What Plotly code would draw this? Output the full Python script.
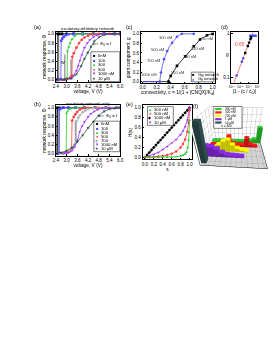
import plotly.graph_objects as go

# ---------------- data ----------------
V_TICKS = [2.4, 3.0, 3.6, 4.2, 4.8, 5.4, 6.0]
UNIT_TICKS = [0.0, 0.2, 0.4, 0.6, 0.8, 1.0]

# (a) excitatory-inhibitory network : voltage (V) vs network response
a_labels = ["0nM", "100", "300", "500", "1000 nM", "10 \u03bcM"]
a0_v = [2.4, 2.45, 2.5, 2.51, 2.6, 2.75, 3.0, 3.4, 3.9, 4.5, 5.1, 5.7, 6.0]
a0_r = [0, 0, 0, 1, 1, 1, 1, 1, 1, 1, 1, 1, 1]
a100_v = [2.4, 2.55, 2.68, 2.7, 2.76, 2.84, 2.95, 3.1, 3.4, 3.9, 4.5, 5.1, 5.7, 6.0]
a100_r = [0, 0, 0.02, 0.85, 0.9, 0.94, 0.97, 0.99, 1, 1, 1, 1, 1, 1]
a300_v = [2.4, 2.7, 2.95, 3.03, 3.05, 3.12, 3.2, 3.3, 3.45, 3.62, 3.9, 4.4, 5.0, 5.6, 6.0]
a300_r = [0, 0, 0.02, 0.05, 0.63, 0.72, 0.8, 0.88, 0.95, 0.99, 1, 1, 1, 1, 1]
a500_v = [2.4, 2.8, 3.05, 3.2, 3.3, 3.32, 3.4, 3.55, 3.7, 3.85, 4.0, 4.2, 4.4, 4.8, 5.4, 6.0]
a500_r = [0, 0, 0.02, 0.05, 0.09, 0.5, 0.58, 0.7, 0.8, 0.87, 0.92, 0.96, 0.99, 1, 1, 1]
a1000_v = [2.4, 2.9, 3.2, 3.4, 3.55, 3.65, 3.75, 3.85, 4.0, 4.15, 4.3, 4.5, 4.7, 5.0, 5.5, 6.0]
a1000_r = [0, 0, 0.03, 0.1, 0.2, 0.3, 0.42, 0.54, 0.7, 0.8, 0.87, 0.93, 0.97, 1.0, 1, 1]
a10u_v = [2.4, 2.9, 3.27, 3.55, 3.82, 4.0, 4.18, 4.36, 4.55, 4.82, 5.18, 5.6, 6.0]
a10u_r = [0, 0.01, 0.03, 0.12, 0.3, 0.46, 0.59, 0.72, 0.84, 0.93, 0.99, 1, 1]
a_gray_v = [[2.55, 2.55], [2.9, 2.9], [3.25, 3.25]]
a_gray_r = [[0, 1], [0, 0.55], [0.02, 0.45]]

# (b) excitatory network only
b_labels = ["0nM", "100", "300", "500", "700", "1000 nM", "10 \u03bcM"]
b0_v = [2.4, 2.45, 2.48, 2.49, 2.6, 2.8, 3.1, 3.5, 4.0, 4.6, 5.2, 5.8, 6.0]
b0_r = [0, 0, 0, 1, 1, 1, 1, 1, 1, 1, 1, 1, 1]
b100_v = [2.4, 2.5, 2.59, 2.61, 2.7, 2.85, 3.1, 3.5, 4.0, 4.6, 5.2, 6.0]
b100_r = [0, 0, 0.01, 0.97, 0.99, 1, 1, 1, 1, 1, 1, 1]
b300_v = [2.4, 2.8, 2.98, 3.0, 3.06, 3.15, 3.3, 3.5, 3.9, 4.5, 5.2, 6.0]
b300_r = [0, 0, 0.02, 0.88, 0.93, 0.97, 0.99, 1, 1, 1, 1, 1]
b500_v = [2.4, 2.8, 3.0, 3.15, 3.28, 3.31, 3.4, 3.5, 3.6, 3.75, 3.9, 4.2, 4.8, 5.4, 6.0]
b500_r = [0, 0, 0.02, 0.05, 0.1, 0.72, 0.8, 0.86, 0.91, 0.96, 0.99, 1, 1, 1, 1]
b700_v = [2.4, 2.9, 3.2, 3.35, 3.45, 3.54, 3.56, 3.65, 3.75, 3.9, 4.05, 4.2, 4.5, 5.0, 6.0]
b700_r = [0, 0.01, 0.05, 0.12, 0.2, 0.3, 0.7, 0.78, 0.84, 0.9, 0.94, 0.97, 0.99, 1, 1]
b1000_v = [2.4, 2.9, 3.1, 3.3, 3.45, 3.6, 3.73, 3.87, 4.0, 4.2, 4.36, 4.55, 4.73, 5.0, 5.4, 6.0]
b1000_r = [0, 0.01, 0.02, 0.06, 0.14, 0.28, 0.47, 0.6, 0.69, 0.8, 0.87, 0.92, 0.96, 0.99, 1, 1]
b10u_v = [2.4, 2.7, 3.0, 3.3, 3.6, 3.9, 4.2, 4.5, 4.8, 5.1, 5.4, 5.7, 6.0]
b10u_r = [0, 0.02, 0.06, 0.13, 0.25, 0.4, 0.56, 0.7, 0.83, 0.92, 0.97, 0.99, 1.0]
b_gray_v = [[2.45, 2.45], [2.52, 2.52], [2.56, 2.56], [3.5, 3.5]]
b_gray_r = [[0, 1], [0, 1], [0, 1], [0.25, 0.72]]

# (c) giant component vs connectivity
c_E_c = [0.0, 0.1, 0.2, 0.244, 0.25, 0.26, 0.28, 0.305, 0.33, 0.35, 0.38, 0.42, 0.46, 0.49, 0.53, 0.56, 0.65, 0.73]
c_E_g = [0, 0, 0, 0, 0.08, 0.19, 0.33, 0.47, 0.57, 0.64, 0.73, 0.81, 0.89, 0.94, 0.98, 1.0, 1.0, 1.0]
c_E_pc = [0.244, 0.26, 0.305, 0.35, 0.42, 0.49, 0.56, 0.73]
c_E_pg = [0.0, 0.19, 0.47, 0.64, 0.81, 0.94, 1.0, 1.0]
c_EI_c = [0.0, 0.2, 0.366, 0.37, 0.4, 0.45, 0.49, 0.55, 0.61, 0.67, 0.73, 0.78, 0.82, 0.87, 0.92, 0.96, 1.0]
c_EI_g = [0, 0, 0, 0.04, 0.12, 0.25, 0.33, 0.43, 0.53, 0.64, 0.74, 0.82, 0.88, 0.93, 0.97, 0.99, 1.0]
c_EI_pc = [0.37, 0.4, 0.49, 0.61, 0.73, 0.82, 0.92, 1.0]
c_EI_pg = [0.0, 0.12, 0.33, 0.53, 0.74, 0.88, 0.97, 1.0]
c_E_tags = ["300 nM", "500 nM", "700 nM", "1000 nM"]
c_E_tag_c = [0.45, 0.33, 0.28, 0.23]
c_E_tag_g = [0.92, 0.67, 0.44, 0.15]
c_EI_tags = ["50 nM", "140 nM", "300 nM", "500 nM"]
c_EI_tag_c = [0.92, 0.78, 0.67, 0.5]
c_EI_tag_g = [0.9, 0.69, 0.52, 0.19]
c_legend = ["G<sub>EI</sub> network", "G<sub>E</sub> network"]

# (d) log-log scaling
d_fit_x = [0.0017, 0.42]
d_fit_g = [0.073, 1.25]
d_E_x = [0.0038, 0.0158, 0.0229, 0.15, 0.22, 0.33, 0.5, 0.68]
d_E_g = [0.11, 0.23, 0.275, 0.91, 0.91, 0.91, 0.91, 0.91]
d_EI_x = [0.039, 0.079, 0.112, 0.162, 0.195]
d_EI_g = [0.363, 0.525, 0.63, 0.76, 0.83]
d_exponent = "0.65"

# (e) H(s)
e_labels = ["300 nM", "500 nM", "1000 nM", "10 \u03bcM"]
e_lin_s = [0.0, 0.05, 0.1, 0.15, 0.2, 0.25, 0.3, 0.35, 0.4, 0.45, 0.5, 0.55, 0.6, 0.65, 0.7, 0.75, 0.8, 0.85, 0.9, 0.95, 1.0]
e_lin_h = [0.0, 0.05, 0.1, 0.15, 0.2, 0.25, 0.3, 0.35, 0.4, 0.45, 0.5, 0.55, 0.6, 0.65, 0.7, 0.75, 0.8, 0.85, 0.9, 0.95, 1.0]
e_10u_s = [0.0, 0.1, 0.2, 0.3, 0.4, 0.5, 0.6, 0.7, 0.8, 0.85, 0.9, 0.95, 1.0]
e_10u_h = [0.0, 0.03, 0.06, 0.1, 0.16, 0.22, 0.29, 0.36, 0.46, 0.53, 0.62, 0.75, 1.0]
e_500_s = [0.0, 0.1, 0.2, 0.3, 0.4, 0.5, 0.6, 0.7, 0.8, 0.85, 0.9, 0.95, 0.98, 1.0]
e_500_h = [0.0, 0.005, 0.01, 0.02, 0.03, 0.05, 0.075, 0.12, 0.2, 0.27, 0.36, 0.52, 0.7, 0.95]
e_300_s = [0.0, 0.1, 0.2, 0.3, 0.4, 0.5, 0.6, 0.7, 0.8, 0.85, 0.9, 0.93, 0.96, 0.98, 0.99, 1.0]
e_300_h = [0.0, 0.0, 0.0, 0.0, 0.002, 0.004, 0.008, 0.015, 0.03, 0.045, 0.07, 0.11, 0.2, 0.35, 0.5, 0.75]

# (f) cluster-size distributions D_s
f_s = [1, 2, 3, 4, 5, 6, 7, 8, 9, 10, 11, 12]
f_names = ["300 nM", "500 nM", "700 nM", "1 \u03bcM", "10 \u03bcM"]
f_D_300 = [0.03, 0.03, 0.03, 0.03, 0.03, 0.03, 0.04, 0.04, 0.05, 0.08, 0.12, 0.5]
f_D_500 = [0.04, 0.05, 0.08, 0.15, 0.32, 0.1, 0.06, 0.06, 0.28, 0.08, 0.04, 0.0]
f_D_700 = [0.08, 0.12, 0.2, 0.3, 0.35, 0.2, 0.1, 0.05, 0.02, 0.0, 0.0, 0.0]
f_D_1u = [0.3, 0.28, 0.22, 0.12, 0.06, 0.04, 0.03, 0.02, 0.0, 0.0, 0.0, 0.0]
f_D_10u = [1.0, 0.0, 0.0, 0.0, 0.0, 0.0, 0.0, 0.0, 0.0, 0.0, 0.0, 0.0]
f_n = "n = 400"

# ---------------- styling ----------------
W, H = 277, 359
FONT = "Liberation Sans"
BLACK, BLUE, GREEN, RED = "#000000", "#4d4dff", "#2ecc2e", "#ff3b3b"
PURPLE, TEAL, GRAY7 = "#9b30ff", "#2f4f4f", "#a8b4b4"


def px(x):
    return x / W


def py(y):
    return 1 - y / H


fig = go.Figure()


def add(x, y, color, sym, xa, ya, size=2.6, width=0.8, mode="lines+markers"):
    fig.add_trace(go.Scatter(
        x=x, y=y, mode=mode, xaxis=xa, yaxis=ya,
        line=dict(color=color, width=width),
        marker=dict(symbol=sym, size=size, color=color, line=dict(width=0)),
        showlegend=False, hoverinfo="skip"))


# (a)
for gv, gr in zip(a_gray_v, a_gray_r):
    add(gv, gr, "#9a9a9a", "circle", "x", "y", width=1.4, mode="lines")
a_series = [(a0_v, a0_r, BLACK, "square"), (a100_v, a100_r, BLUE, "square"),
            (a300_v, a300_r, GREEN, "triangle-up"), (a500_v, a500_r, RED, "circle"),
            (a1000_v, a1000_r, PURPLE, "triangle-down"), (a10u_v, a10u_r, TEAL, "star")]
for v, r, col, sym in a_series:
    add(v, r, col, sym, "x", "y")

# (b)
for gv, gr in zip(b_gray_v, b_gray_r):
    add(gv, gr, "#9a9a9a", "circle", "x2", "y2", width=1.4, mode="lines")
b_series = [(b0_v, b0_r, BLACK, "square"), (b100_v, b100_r, BLUE, "square"),
            (b300_v, b300_r, GREEN, "triangle-up"), (b500_v, b500_r, RED, "circle"),
            (b700_v, b700_r, GRAY7, "diamond"), (b1000_v, b1000_r, PURPLE, "triangle-down"),
            (b10u_v, b10u_r, TEAL, "star")]
for v, r, col, sym in b_series:
    add(v, r, col, sym, "x2", "y2")

# (c)
add(c_EI_c, c_EI_g, BLACK, "square", "x3", "y3", mode="lines")
add(c_E_c, c_E_g, BLUE, "circle", "x3", "y3", mode="lines")
add(c_EI_pc, c_EI_pg, BLACK, "square", "x3", "y3", mode="markers", size=2.6)
add(c_E_pc, c_E_pg, BLUE, "circle", "x3", "y3", mode="markers", size=2.6)

# (d)
add(d_fit_x, d_fit_g, "#ff6060", "circle", "x4", "y4", mode="lines", width=0.8)
add(d_E_x, d_E_g, BLUE, "circle", "x4", "y4", mode="markers", size=2.6)
add(d_EI_x, d_EI_g, BLACK, "square", "x4", "y4", mode="markers", size=2.4)

# (e)
add(e_lin_s, e_lin_h, BLACK, "diamond", "x5", "y5", size=2.6)
add(e_10u_s, e_10u_h, PURPLE, "triangle-down", "x5", "y5", size=2.6)
add(e_500_s, e_500_h, RED, "circle", "x5", "y5", size=2.4)
add(e_300_s, e_300_h, GREEN, "triangle-up", "x5", "y5", size=2.6)

# (f) 3D bars
FACES = [(0, 1, 2), (0, 2, 3), (4, 5, 6), (4, 6, 7), (0, 1, 5), (0, 5, 4), (1, 2, 6), (1, 6, 5),
         (2, 3, 7), (2, 7, 6), (3, 0, 4), (3, 4, 7)]


def bars(xs, yc, hs, color, dx=0.5, dy=0.32):
    X, Y, Z, I, J, K = [], [], [], [], [], []
    for x, h in zip(xs, hs):
        if h <= 0:
            continue
        n = len(X)
        for zz in (0, h):
            for xx, yy in ((x - dx, yc - dy), (x + dx, yc - dy), (x + dx, yc + dy), (x - dx, yc + dy)):
                X.append(xx); Y.append(yy); Z.append(zz)
        for a, b, c in FACES:
            I.append(n + a); J.append(n + b); K.append(n + c)
    return go.Mesh3d(x=X, y=Y, z=Z, i=I, j=J, k=K, color=color, flatshading=True,
                     lighting=dict(ambient=0.75, diffuse=0.45, specular=0.0, roughness=1),
                     showscale=False, hoverinfo="skip", scene="scene")


f_cols = [GREEN, "#ff1a1a", "#ffff00", "#8a2be2", TEAL]
f_data = [f_D_300, f_D_500, f_D_700, f_D_1u, f_D_10u]
for idx, (dd, col) in enumerate(zip(f_data, f_cols)):
    fig.add_trace(bars(f_s, 4 - idx, dd, col))

TF = dict(size=4.5, family=FONT, color="black")
TT = dict(size=4.8, family=FONT, color="black")


def ax(**kw):
    d = dict(showline=True, mirror=True, linecolor="black", linewidth=0.6,
             ticks="inside", ticklen=1.5, tickwidth=0.5, tickcolor="black",
             tickfont=TF, showgrid=False, zeroline=False, fixedrange=True, tickangle=0)
    d.update(kw)
    return d


unit_text = ["%.1f" % t for t in UNIT_TICKS]
v_text = ["%.1f" % t for t in V_TICKS]

layout = dict(
    width=W, height=H, margin=dict(l=0, r=0, t=0, b=0),
    paper_bgcolor="white", plot_bgcolor="white", showlegend=False,
    font=dict(family=FONT, size=4.5, color="black"),
    xaxis=ax(domain=[px(46), px(112)], range=[2.4, 6.0], tickvals=V_TICKS, ticktext=v_text, anchor="y",
             title=dict(text="voltage, V (V)", font=TT, standoff=1)),
    yaxis=ax(domain=[py(73), py(23)], range=[-0.037, 1.043], tickvals=UNIT_TICKS, ticktext=unit_text, anchor="x",
             title=dict(text="network response, \u03a6", font=TT, standoff=1)),
    xaxis2=ax(domain=[px(46), px(112)], range=[2.4, 6.0], tickvals=V_TICKS, ticktext=v_text, anchor="y2",
              title=dict(text="voltage, V (V)", font=TT, standoff=1)),
    yaxis2=ax(domain=[py(147.6), py(97)], range=[-0.05, 1.05], tickvals=UNIT_TICKS, ticktext=unit_text, anchor="x2",
              title=dict(text="network response, \u03a6", font=TT, standoff=1)),
    xaxis3=ax(domain=[px(133), px(209)], range=[-0.03, 1.03], tickvals=UNIT_TICKS, ticktext=unit_text, anchor="y3",
              title=dict(text="connectivity, c = 1/(1 + [CNQX]/K<sub>d</sub>)", font=TT, standoff=1)),
    yaxis3=ax(domain=[py(74.7), py(23.3)], range=[-0.035, 1.035], tickvals=UNIT_TICKS, ticktext=unit_text, anchor="x3",
              title=dict(text="giant component, g", font=TT, standoff=1)),
    xaxis4=ax(type="log", domain=[px(226), px(253)], range=[-3.05, 0.05], tickvals=[0.001, 0.01, 0.1, 1],
              ticktext=["10<sup>-3</sup>", "10<sup>-2</sup>", "10<sup>-1</sup>", "10<sup>0</sup>"], anchor="y4",
              tickfont=dict(size=3.6, family=FONT, color="black"),
              title=dict(text="|1 - (c / c<sub>0</sub>)|", font=TT, standoff=1)),
    yaxis4=ax(type="log", domain=[py(74.7), py(23.3)], range=[-1.137, 0.04], tickvals=[0.1, 1],
              ticktext=["0.1", "1"], anchor="x4"),
    xaxis5=ax(domain=[px(135), px(186)], range=[-0.05, 1.06], tickvals=UNIT_TICKS, ticktext=unit_text, anchor="y5",
              title=dict(text="s", font=TT, standoff=1)),
    yaxis5=ax(domain=[py(151.3), py(97)], range=[-0.04, 1.046], tickvals=UNIT_TICKS, ticktext=unit_text, anchor="x5",
              title=dict(text="H(s)", font=TT, standoff=1)),
    scene=dict(
        domain=dict(x=[px(186), px(274)], y=[py(170), py(90)]),
        xaxis=dict(title=dict(text="s", font=dict(size=5, family=FONT)), range=[0.5, 12.5], tickvals=f_s,
                   tickfont=dict(size=3.5, family=FONT), backgroundcolor="white", showbackground=True,
                   gridcolor="#888888", gridwidth=0.5, linecolor="black", showspikes=False, zeroline=False),
        yaxis=dict(title=dict(text=""), showticklabels=False, range=[-0.6, 4.6], tickvals=[0, 1, 2, 3, 4],
                   backgroundcolor="white", showbackground=True, gridcolor="#888888", gridwidth=0.5,
                   linecolor="black", showspikes=False, zeroline=False),
        zaxis=dict(title=dict(text="D<sub>s</sub>", font=dict(size=5, family=FONT)), range=[0, 1],
                   tickvals=UNIT_TICKS, ticktext=unit_text, tickfont=dict(size=3.5, family=FONT),
                   backgroundcolor="#d4d4d4", showbackground=True, gridcolor="#888888", gridwidth=0.5,
                   linecolor="black", showspikes=False, zeroline=False),
        camera=dict(eye=dict(x=0.12, y=-1.75, z=0.95), center=dict(x=0, y=0, z=-0.1)),
        aspectmode="manual", aspectratio=dict(x=1.25, y=1.0, z=0.85),
    ),
)
fig.update_layout(**layout)

ann = []
shapes = []


def text(x, y, s, size=4.5, color="black", xanchor="center", yanchor="middle", **kw):
    d = dict(x=px(x), y=py(y), xref="paper", yref="paper", text=s, showarrow=False,
             font=dict(size=size, family=FONT, color=color), xanchor=xanchor, yanchor=yanchor)
    d.update(kw)
    ann.append(d)


# panel labels and titles
text(27, 18.5, "(a)", size=5.5)
text(27, 95.5, "(b)", size=5.5)
text(122, 18.5, "(c)", size=5.5)
text(219, 18.5, "(d)", size=5.5)
text(122, 95.5, "(e)", size=5.5)
text(189, 98, "(f)", size=5.5)
text(79, 19.5, "excitatory-inhibitory network", size=4.3)
text(79, 95, "excitatory network only", size=4.3)


def legend_box(x0, y0, x1, y1):
    shapes.append(dict(type="rect", xref="paper", yref="paper", x0=px(x0), x1=px(x1), y0=py(y0), y1=py(y1),
                       line=dict(color="black", width=0.5), fillcolor="white", layer="above"))


GLYPH = {"square": "\u25a0", "triangle-up": "\u25b2", "circle": "\u25cf", "triangle-down": "\u25bc",
         "star": "\u2605", "diamond": "\u25c6"}


def legend_entries(x, y0, dy, labels, series, size=4.2):
    for i, (lab, s) in enumerate(zip(labels, series)):
        col, sym = s[-2], s[-1]
        yy = y0 + i * dy
        text(x + 1.3, yy, GLYPH[sym], size=size, color=col)
        text(x + 3.6, yy, lab, size=size, xanchor="left")


legend_box(82, 43, 111.5, 73)
legend_entries(84, 46.8, 4.6, a_labels, a_series)
legend_box(85, 112.8, 111.5, 143.5)
legend_entries(87, 115.5, 4.2, b_labels, b_series)
legend_box(185, 63.5, 208, 73.2)
legend_entries(186, 66.3, 4.3, c_legend, [(BLACK, "square"), (BLUE, "circle")], size=4)
legend_box(140, 98.2, 166.5, 117)
e_series = [(GREEN, "triangle-up"), (RED, "circle"), (BLACK, "diamond"), (PURPLE, "triangle-down")]
legend_entries(141.5, 100.6, 4.4, e_labels, e_series)

# arrows Phi0 = f
ann.append(dict(x=4.45, y=0.78, xref="x", yref="y", ax=6, ay=0, text="\u03a6<sub>0</sub> = f", showarrow=True,
                arrowhead=2, arrowsize=0.6, arrowwidth=0.6, xanchor="left",
                font=dict(size=4.3, family=FONT)))
ann.append(dict(x=4.75, y=0.82, xref="x2", yref="y2", ax=6, ay=0, text="\u03a6<sub>0</sub> = f", showarrow=True,
                arrowhead=2, arrowsize=0.6, arrowwidth=0.6, xanchor="left",
                font=dict(size=4.3, family=FONT)))
ann.append(dict(x=2.78, y=0.37, xref="x", yref="y", text="W", showarrow=False, font=dict(size=4, family=FONT)))

# (c) concentration tags
for t, cx, cg in zip(c_E_tags, c_E_tag_c, c_E_tag_g):
    ann.append(dict(x=cx, y=cg, xref="x3", yref="y3", text=t, showarrow=False, xanchor="right",
                    font=dict(size=4, family=FONT, color="#333333")))
for t, cx, cg in zip(c_EI_tags, c_EI_tag_c, c_EI_tag_g):
    ann.append(dict(x=cx, y=cg, xref="x3", yref="y3", text=t, showarrow=False, xanchor="center",
                    font=dict(size=4, family=FONT, color="#333333")))

# (d)
ann.append(dict(x=-2.05, y=-0.24, xref="x4", yref="y4", text=d_exponent, showarrow=False,
                font=dict(size=4.8, family=FONT, color="#ff4040")))
text(222, 46, "g", size=4.8)

# (f) legend
legend_box(208, 98, 237, 120)
for i, (nm, col) in enumerate(zip(f_names, f_cols)):
    yy = 100.6 + i * 3.4
    shapes.append(dict(type="rect", xref="paper", yref="paper", x0=px(209.5), x1=px(216),
                       y0=py(yy + 1.1), y1=py(yy - 1.1), line=dict(width=0), fillcolor=col, layer="above"))
    text(217, yy, nm, size=3.2, xanchor="left")
text(213, 117.6, f_n, size=3.2, xanchor="left")

fig.update_layout(annotations=ann, shapes=shapes)
fig.write_html("out.html")
